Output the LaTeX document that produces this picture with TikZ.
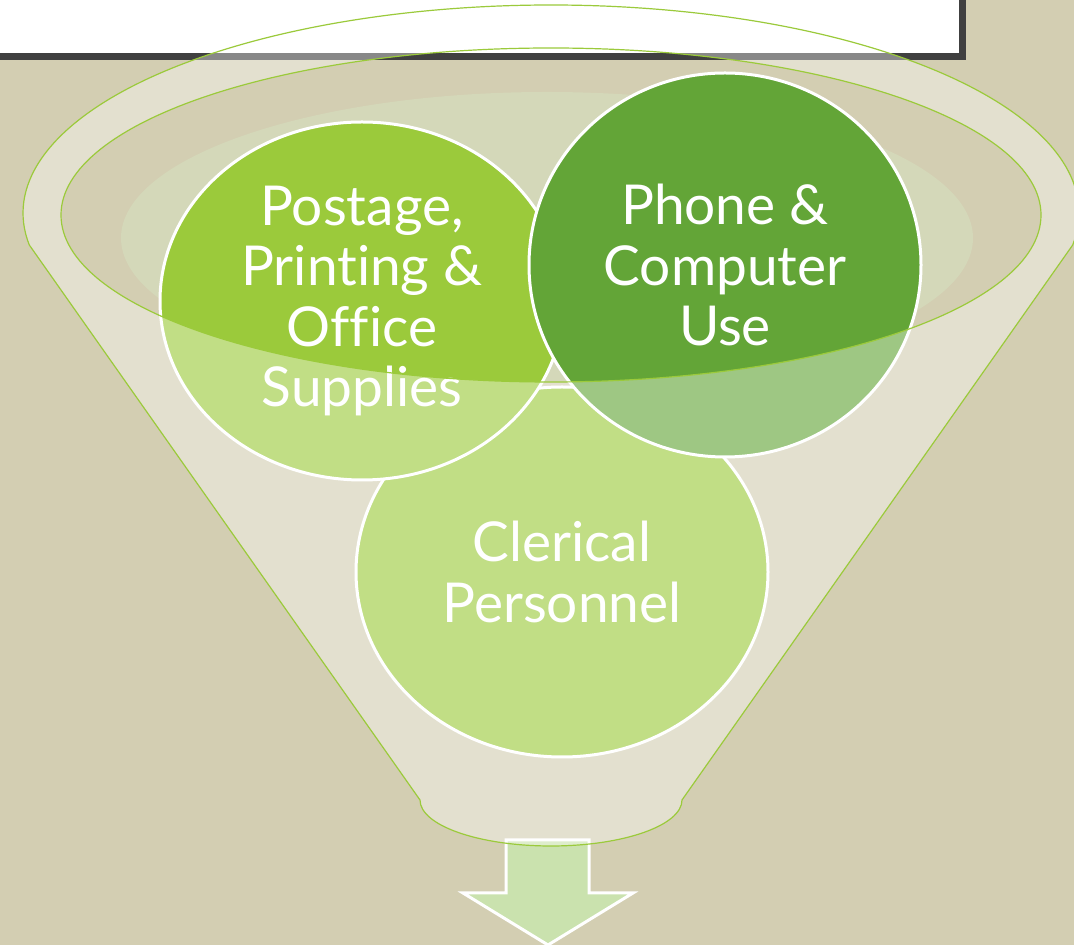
\documentclass[tikz,border=0pt]{standalone}
\usepackage{fontspec}
\setmainfont{Lato}[Ligatures=NoCommon]
\usetikzlibrary{shapes.geometric}

\begin{document}
\begin{tikzpicture}[x=1pt,y=1pt,font=\fontsize{55}{60.5}\selectfont]
  \definecolor{fundo}{HTML}{D3CEB2}
  \definecolor{lima}{HTML}{9BCA3B}
  \definecolor{folha}{HTML}{63A537}
  \definecolor{brilho}{HTML}{D4D8B9}
  \definecolor{seta}{HTML}{CAE2AE}
  \definecolor{moldura}{HTML}{404040}
  \tikzset{bola/.style={ellipse,draw=white,line width=3,text=white,align=center,inner sep=0}}
  \useasboundingbox (0,0) rectangle (1074,945);
  \fill[fundo] (0,0) rectangle (1074,945);
  % caixa do título (sai da folha por cima e pela esquerda)
  \draw[moldura,fill=white,line width=7] (-20,888.5) rectangle (962.5,990);
  % brilho dentro da boca do funil
  \begin{scope}
    \clip (551,730) ellipse [x radius=490,y radius=167];
    \fill[brilho] (547,707) ellipse [x radius=426,y radius=146];
  \end{scope}
  % seta de saída
  \draw[fill=seta,draw=white,line width=3]
    (506,105) -- (589,105) -- (589,52) -- (633,52) -- (548,0) -- (463,52) -- (506,52) -- cycle;
  % círculos, o de baixo primeiro
  \foreach \nome/\cx/\cy/\rx/\ry/\cor/\txt in {
      clerical/562/373/206/185/lima/{Clerical\\Personnel},
      postage/362/644/202/179/lima/{Postage,\\Printing \&\\Office\\Supplies},
      phone/725/680/196/192/folha/{Phone \&\\Computer\\Use}} {
    \node[bola,fill=\cor,minimum width=2*\rx,minimum height=2*\ry] (\nome) at (\cx,\cy) {\txt};
  }
  % funil: véu translúcido por cima, boca aberta (even odd)
  \path[fill=white,fill opacity=.38,draw=lima,line width=1.2,even odd rule]
    ([shift={(188.85:528 and 208)}]551,732) -- (420,145)
    arc[start angle=180,end angle=360,x radius=131,y radius=46]
    -- ([shift={(-8.85:528 and 208)}]551,732)
    arc[start angle=-8.85,end angle=188.85,x radius=528,y radius=208] -- cycle
    (551,730) ellipse [x radius=490,y radius=167];
\end{tikzpicture}
\end{document}
